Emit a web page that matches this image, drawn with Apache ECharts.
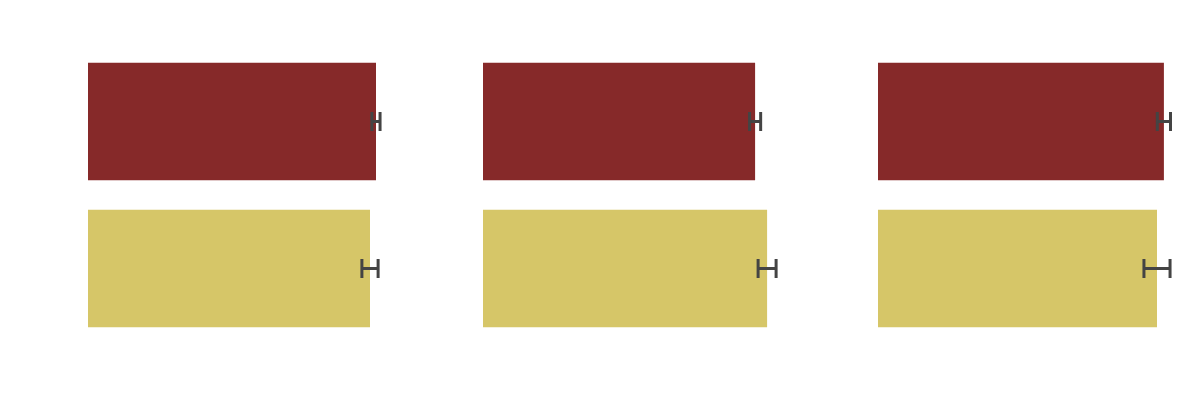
<!DOCTYPE html>
<html>
<head>
<meta charset="utf-8">
<script src="https://cdn.jsdelivr.net/npm/echarts@6/dist/echarts.min.js"></script>
<style>html,body{margin:0;padding:0;background:#fff}#c{width:1200px;height:400px}</style>
</head>
<body>
<div id="c"></div>
<script>
const categories = ['A', 'B'];
const panel1Values = [96.0, 94.0];
const panel1Errors = [1.35, 2.7];
const panel2Values = [90.7, 94.7];
const panel2Errors = [1.85, 3.0];
const panel3Values = [95.3, 93.0];
const panel3Errors = [2.2, 4.35];
const barColors = ['#862929', '#D6C668'];

const panels = [
  {values: panel1Values, errors: panel1Errors},
  {values: panel2Values, errors: panel2Errors},
  {values: panel3Values, errors: panel3Errors}
];
const lefts = [88, 483, 878];

const chart = echarts.init(document.getElementById('c'), null, {renderer: 'canvas'});
const grids = [], xAxes = [], yAxes = [], series = [];
panels.forEach((p, i) => {
  grids.push({left: lefts[i], top: 48, width: 300, height: 294, containLabel: false});
  xAxes.push({type: 'value', gridIndex: i, min: 0, max: 100, show: false});
  yAxes.push({type: 'category', gridIndex: i, data: categories, inverse: true, show: false});
  series.push({
    type: 'bar', xAxisIndex: i, yAxisIndex: i, barWidth: '80%',
    data: p.values.map((v, k) => ({value: v, itemStyle: {color: barColors[k]}})),
    silent: true, animation: false
  });
  series.push({
    type: 'custom', xAxisIndex: i, yAxisIndex: i, silent: true, animation: false,
    encode: {x: [1, 2], y: 0},
    data: p.values.map((v, k) => [k, v - p.errors[k], v + p.errors[k]]),
    renderItem: function (params, api) {
      const cat = api.value(0);
      const a = api.coord([api.value(1), cat]);
      const b = api.coord([api.value(2), cat]);
      const h = 9.5;
      const style = {stroke: '#444444', lineWidth: 3, fill: null};
      return {
        type: 'group',
        children: [
          {type: 'line', shape: {x1: a[0], y1: a[1], x2: b[0], y2: b[1]}, style: style},
          {type: 'line', shape: {x1: a[0], y1: a[1] - h, x2: a[0], y2: a[1] + h}, style: style},
          {type: 'line', shape: {x1: b[0], y1: b[1] - h, x2: b[0], y2: b[1] + h}, style: style}
        ]
      };
    },
    z: 5
  });
});

chart.setOption({
  animation: false,
  grid: grids,
  xAxis: xAxes,
  yAxis: yAxes,
  series: series
});
</script>
</body>
</html>
